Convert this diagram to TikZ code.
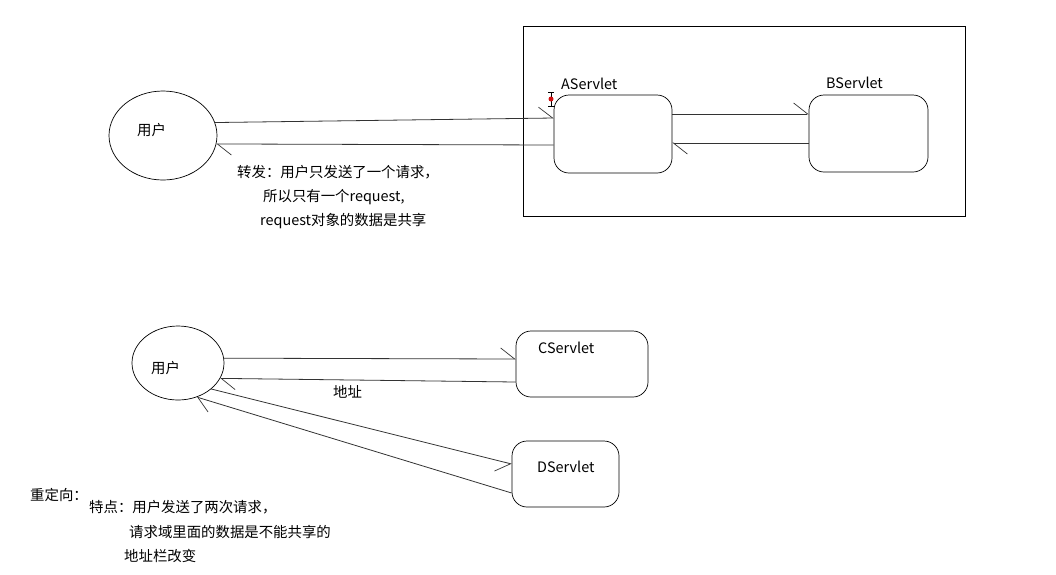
\documentclass[tikz,border=0pt]{standalone}
\usepackage{fontspec}
\setmainfont{Noto Sans CJK SC}
\usetikzlibrary{arrows.meta, positioning, shapes.geometric}
\definecolor{ink}{HTML}{000000}
\definecolor{wire}{HTML}{333333}
\definecolor{cursor}{HTML}{D01010}
\tikzset{
  user/.style={ellipse, draw=ink, line width=0.7pt, inner sep=0pt},
  servlet/.style={rectangle, rounded corners=15pt, draw=ink, line width=0.7pt, inner sep=0pt},
  txt/.style={anchor=west, inner sep=0pt, font=\fontsize{14.4}{17}\selectfont, text=ink},
  fl/.style={-{Straight Barb[harpoon, length=14pt, width=22pt, line width=0.7pt]}, line width=0.8pt, draw=wire},
  fls/.style={-{Straight Barb[harpoon, swap, length=14pt, width=22pt, line width=0.7pt]}, line width=0.8pt, draw=wire},
}
\begin{document}
\begin{tikzpicture}[x=1pt, y=-1pt]
  \useasboundingbox (0,0) rectangle (1056,574);
  % forward: container
  \draw[ink, line width=0.8pt] (523,26) rectangle (965,216);
  \node[user, minimum width=108pt, minimum height=89pt] (u1) at (163,135.5) {};
  \node[txt] (u1lab) at (137,130) {用户};
  \node[servlet, minimum width=118pt, minimum height=78pt] (a) at (613,134) {};
  \node[servlet, minimum width=119pt, minimum height=77pt] (b) at (868.5,133.5) {};
  \node[txt] (alab) at (561,84) {AServlet};
  \node[txt] (blab) at (826,83) {BServlet};
  % cursor mark
  \draw[ink, line width=0.6pt] (548,92) -- (554,92) (551,92) -- (551,106) (548,106) -- (554,106);
  \fill[cursor] (551,99) circle (2.5pt);
  \draw[fl] (u1.14) -- ([yshift=16pt]a.west);
  \draw[fl] ([yshift=-11pt]a.west) -- (u1.-9);
  \draw[fl] ([yshift=20pt]a.east) -- ([yshift=19.5pt]b.west);
  \draw[fl] ([yshift=-9.5pt]b.west) -- ([yshift=-9pt]a.east);
  \node[txt] (fw1) at (237,172) {转发：用户只发送了一个请求，};
  \node[txt] (fw2) at (263,197) {所以只有一个request,};
  \node[txt] (fw3) at (260,221) {request对象的数据是共享};
  % redirect
  \node[user, minimum width=92pt, minimum height=74pt] (u2) at (178,363) {};
  \node[txt] (u2lab) at (151,368) {用户};
  \node[servlet, minimum width=132pt, minimum height=66pt] (c) at (582,364) {};
  \node[servlet, minimum width=107pt, minimum height=66pt] (d) at (565.5,474) {};
  \node[txt] (clab) at (538,348) {CServlet};
  \node[txt] (dlab) at (537,467) {DServlet};
  \draw[fl] (u2.6) -- ([yshift=5pt]c.west);
  \draw[fl] ([yshift=-18pt]c.west) -- (u2.-20);
  \node[txt] (addr) at (333,392) {地址};
  \draw[fls] (u2.-38) -- ([yshift=10pt]d.west);
  \draw[fl] ([yshift=-19pt]d.west) -- (u2.-61);
  \node[txt] (rd0) at (30,495) {重定向：};
  \node[txt] (rd1) at (89,507) {特点：用户发送了两次请求，};
  \node[txt] (rd2) at (129,532) {请求域里面的数据是不能共享的};
  \node[txt] (rd3) at (124,556) {地址栏改变};
\end{tikzpicture}
\end{document}
